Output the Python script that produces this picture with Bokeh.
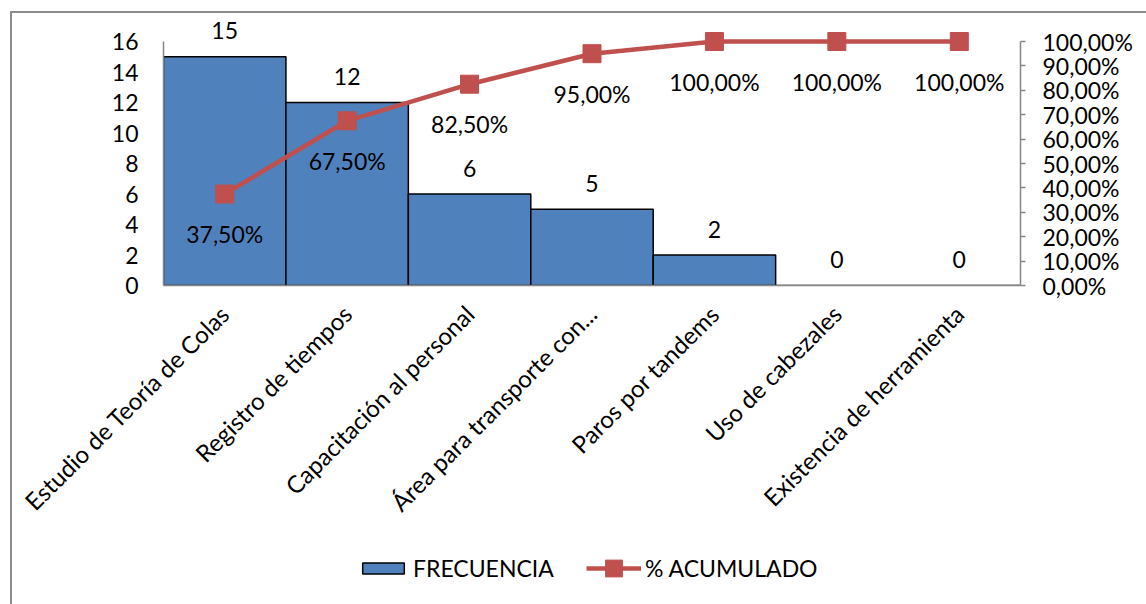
import math
from bokeh.plotting import figure
from bokeh.layouts import column
from bokeh.models import (FactorRange, Range1d, LinearAxis, FixedTicker,
                          Legend, LegendItem, ColumnDataSource)
from bokeh.core.properties import value
from bokeh.embed import file_html
from bokeh.resources import INLINE

# ---------------- data ----------------
categories = [
    "Estudio de Teoría de Colas",
    "Registro de tiempos",
    "Capacitación al personal",
    "Área para transporte con...",
    "Paros por tandems",
    "Uso de cabezales",
    "Existencia de herramienta",
]
frecuencia = [15, 12, 6, 5, 2, 0, 0]
acumulado = [0.375, 0.675, 0.825, 0.95, 1.0, 1.0, 1.0]
left_ticks = [0, 2, 4, 6, 8, 10, 12, 14, 16]
right_ticks = [0.0, 0.1, 0.2, 0.3, 0.4, 0.5, 0.6, 0.7, 0.8, 0.9, 1.0]


def pct(v):
    return f"{v * 100:.2f}".replace(".", ",") + "%"


freq_labels = [str(v) for v in frecuencia]
acum_labels = [pct(v) for v in acumulado]
right_tick_labels = {t: pct(t) for t in right_ticks}

# ---------------- style / layout ----------------
FONT = "Lato"
FS = "23px"
FS_CAT = "24px"
BAR = "#4F81BD"
RED = "#C0504D"
AXIS = "#868686"

Y_MAX = 16
PX_PER_UNIT = 244 / Y_MAX       # pixel height of one unit of the 0..16 scale
FRAME_PX = 272                  # frame height (extra room above 16 for the label "15")
MAIN_H = 527
LEG_H = 591 - MAIN_H

src = ColumnDataSource(dict(cat=categories, freq=frecuencia, acum=acumulado,
                            fl=freq_labels, al=acum_labels))

p = figure(width=1134, height=MAIN_H, x_range=FactorRange(*categories),
           y_range=Range1d(0, FRAME_PX / PX_PER_UNIT),
           output_backend="svg", toolbar_location=None,
           min_border_left=151, min_border_right=126,
           min_border_top=0, min_border_bottom=MAIN_H - FRAME_PX)
p.extra_y_ranges = {"pct": Range1d(0, FRAME_PX / 244)}
p.outline_line_color = None
p.xgrid.visible = False
p.ygrid.visible = False
p.background_fill_color = "white"
p.border_fill_color = "white"

bar_style = dict(fill_color=BAR, line_color="black", line_width=1.5)
line_style = dict(line_color=RED, line_width=4.5)
mark_style = dict(marker="square", fill_color=RED, line_color=RED)

bars = p.vbar(x="cat", top="freq", bottom=0, width=1.0, source=src, **bar_style)
line = p.line(x="cat", y="acum", source=src, y_range_name="pct", **line_style)
marks = p.scatter(x="cat", y="acum", source=src, y_range_name="pct", size=18,
                  **mark_style)

# data labels
p.text(x="cat", y="freq", text="fl", source=src, text_align="center",
       text_baseline="middle", y_offset=-26, text_font=value(FONT),
       text_font_size=FS, text_color="black")
p.text(x="cat", y="acum", text="al", source=src, y_range_name="pct",
       text_align="center", text_baseline="middle", y_offset=40,
       text_font=value(FONT), text_font_size=FS, text_color="black")

# left axis
ya = p.yaxis[0]
ya.bounds = (0, Y_MAX)
ya.ticker = FixedTicker(ticks=left_ticks)
ya.axis_line_color = AXIS
ya.axis_line_width = 1.5
ya.major_tick_out = 0
ya.major_tick_in = 0
ya.minor_tick_out = 0
ya.minor_tick_in = 0
ya.major_label_standoff = 25
ya.major_label_text_font = FONT
ya.major_label_text_font_size = FS
ya.major_label_text_color = "black"

# right axis
ra = LinearAxis(y_range_name="pct", bounds=(0, 1.0),
                ticker=FixedTicker(ticks=right_ticks))
ra.major_label_overrides = right_tick_labels
ra.axis_line_color = AXIS
ra.axis_line_width = 1.5
ra.major_tick_line_color = AXIS
ra.major_tick_line_width = 1.5
ra.major_tick_out = 5
ra.major_tick_in = 0
ra.minor_tick_out = 0
ra.minor_tick_in = 0
ra.major_label_standoff = 17
ra.major_label_text_font = FONT
ra.major_label_text_font_size = FS
ra.major_label_text_color = "black"
p.add_layout(ra, "right")

# bottom (category) axis
xa = p.xaxis[0]
xa.axis_line_color = AXIS
xa.axis_line_width = 1.5
xa.major_tick_out = 0
xa.major_tick_in = 0
xa.major_label_orientation = math.pi / 4
xa.major_label_standoff = 24
xa.major_label_text_font = FONT
xa.major_label_text_font_size = FS_CAT
xa.major_label_text_color = "black"

# ---------------- legend strip ----------------
# the same series, hidden: only their legend swatches are seen
lp = figure(width=1134, height=LEG_H, x_axis_location=None, y_axis_location=None,
            x_range=FactorRange(*categories), y_range=Range1d(0, 16),
            extra_y_ranges={"pct": Range1d(0, 1)},
            output_backend="svg", toolbar_location=None,
            min_border_left=0, min_border_right=0,
            min_border_top=0, min_border_bottom=0)
lp.outline_line_color = None
lp.xgrid.visible = False
lp.ygrid.visible = False
lbar = lp.vbar(x="cat", top="freq", bottom=0, width=1.0, source=src,
               visible=False, **bar_style)
lline = lp.line(x="cat", y="acum", source=src, y_range_name="pct",
                visible=False, **line_style)
lmark = lp.scatter(x="cat", y="acum", source=src, y_range_name="pct", size=18,
                   visible=False, **mark_style)

common = dict(orientation="horizontal", label_standoff=4, padding=0, margin=0,
              border_line_color=None, background_fill_alpha=0,
              inactive_fill_alpha=0,
              label_text_font=FONT, label_text_font_size=FS,
              label_text_color="black", label_text_baseline="middle")
leg1 = Legend(items=[LegendItem(label="FRECUENCIA", renderers=[lbar])],
              location=(194, 22), glyph_width=52, glyph_height=14,
              label_height=14, **common)
leg2 = Legend(items=[LegendItem(label="% ACUMULADO", renderers=[lline, lmark])],
              location=(423, 15), glyph_width=55, glyph_height=42,
              label_height=42, **common)
lp.add_layout(leg1, "center")
lp.add_layout(leg2, "center")

layout = column(p, lp, spacing=0)
layout.margin = (11, 0, 0, 10)
layout.styles = {"border-left": "2px solid #8c8c8c",
                 "border-top": "2px solid #8c8c8c"}

open("out.html", "w").write(file_html(layout, INLINE))
